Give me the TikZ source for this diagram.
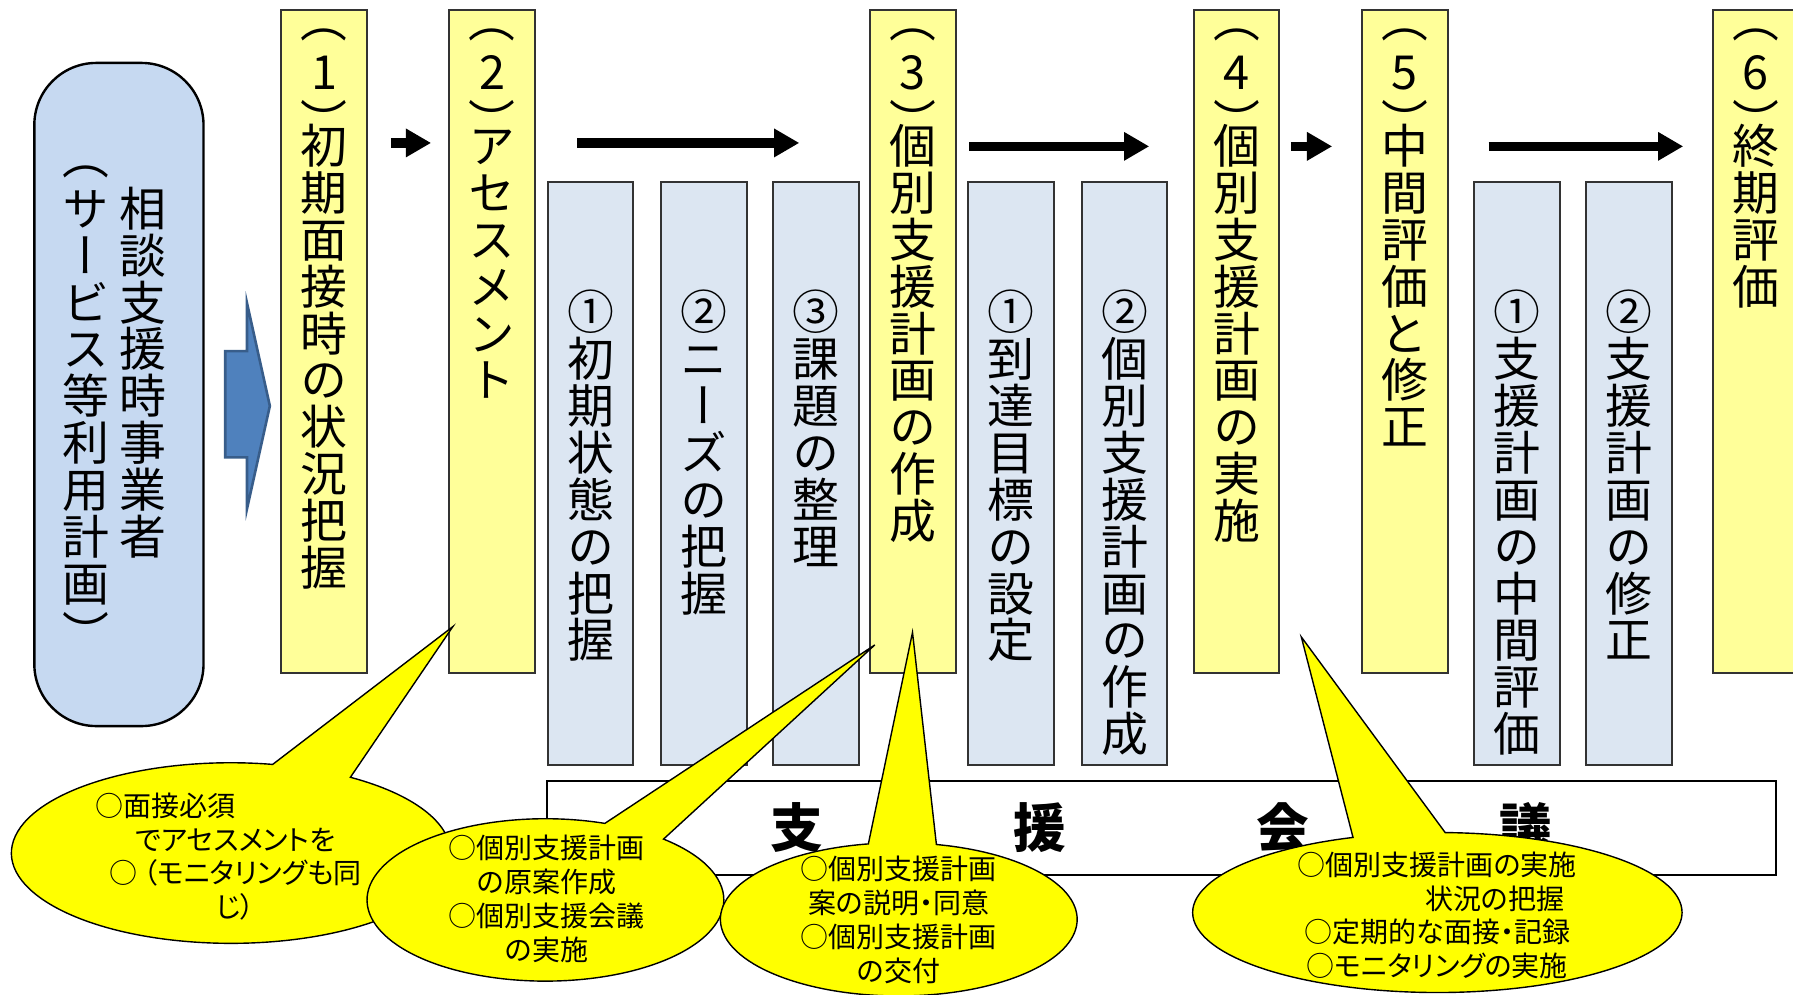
\documentclass[tikz,border=0pt]{standalone}
\usepackage{fontspec}
\setmainfont{Noto Sans CJK JP}
\newfontfamily\jp[RawFeature=+palt]{Noto Sans CJK JP}
\newfontfamily\tatefont[RawFeature=+vert]{Noto Sans CJK JP}
\usetikzlibrary{
  arrows.meta,
  shapes.callouts,
  calc,
}

\definecolor{stagefill}{HTML}{FFFF99}
\definecolor{taskfill}{HTML}{DCE6F2}
\definecolor{consfill}{HTML}{C6D9F1}
\definecolor{arrowfill}{HTML}{4F81BD}
\definecolor{arrowline}{HTML}{385D8A}
\definecolor{bubblefill}{HTML}{FFFF00}

% vertical writing, one character per line
\def\tatebox#1{\hbox to 1em{\hss\vrule height .88em depth .12em width 0pt\relax#1\hss}}
\protected\def\kl{\vbox to .6em{\vss\tatebox{︵}\kern.1em}}
\protected\def\kr{\vbox to .58em{\kern.07em\tatebox{︶}\vss}}
\def\tatenext#1{\ifx#1\relax\else\ifcat\noexpand#1\relax#1\else\tatebox{#1}\fi\expandafter\tatenext\fi}
\def\tate#1{\vtop{\offinterlineskip\edef\tatelist{#1}\expandafter\tatenext\tatelist\relax}}

\begin{document}
\begin{tikzpicture}[
  x=0.5718pt, y=-0.5718pt,
  tatetxt/.style={inner sep=0pt, font=\tatefont\fontsize{23.44}{23.44}\selectfont},
  stage/.style={tatetxt, draw=black!80, line width=1pt, fill=stagefill, anchor=north west,
    minimum width=42.9pt, text height=19.06pt, text depth=312.58pt},
  task/.style={tatetxt, draw=black!80, line width=1pt, fill=taskfill, anchor=north west,
    minimum width=42.9pt, text height=74.09pt, text depth=217.53pt},
  cons/.style={draw, line width=1.2pt, fill=consfill, rounded corners=31pt,
    minimum width=84.6pt, minimum height=331.6pt, inner sep=0pt},
  meeting/.style={draw, line width=1pt, fill=white, minimum width=614.7pt,
    minimum height=46.9pt, inner sep=0pt, font=\bfseries\fontsize{26.3}{26.3}\selectfont},
  flow/.style={line width=4.6pt, -{Triangle[length=12.6pt,width=13.5pt]}},
  bigarrow/.style={draw=arrowline, line width=1.3pt, fill=arrowfill},
  bubble/.style={ellipse callout, draw=black, line width=0.7pt, fill=bubblefill,
    inner sep=0pt, callout pointer arc=22},
  note/.style={inner sep=0pt, align=center, font=\jp\fontsize{14}{16.9}\selectfont},
]
\useasboundingbox (0,0) rectangle (1568,870);

\node[cons] (cons) at (104,345) {};
\node[tatetxt, anchor=north] (c1) at (125,161.5) {\tate{相談支援時事業者}};
\node[tatetxt, anchor=north] (c2) at (75,136.9) {\tate{\kl サービス等利用計画\kr}};
\draw[bigarrow] (197,307) -- (216,307) -- (216,265) -- (236,355) -- (216,445) -- (216,400) -- (197,400) -- cycle;

\foreach \x/\n/\t in {245/1/\kl 1\kr 初期面接時の状況把握, 392/2/\kl 2\kr アセスメント,
  760/3/\kl 3\kr 個別支援計画の作成, 1043/4/\kl 4\kr 個別支援計画の実施,
  1190/5/\kl 5\kr 中間評価と修正, 1497/6/\kl 6\kr 終期評価}
  \node[stage] (s\n) at (\x,8) {\tate{\t}};

\foreach \x/\n/\t in {478/a/①初期状態の把握, 577/b/②ニーズの把握, 675/c/③課題の整理,
  846/d/①到達目標の設定, 945/e/②個別支援計画の作成,
  1288/f/①支援計画の中間評価, 1386/g/②支援計画の修正}
  \node[task] (k\n) at (\x,158) {\tate{\t}};

\draw[flow] ($(s1.north east)+(20,117)$) -- ($(s2.north west)+(-15,117)$);
\draw[flow] ($(s2.north east)+(36,117)$) -- ($(s3.north west)+(-61,117)$);
\draw[flow] ($(s3.north east)+(11,120)$) -- ($(s4.north west)+(-38,120)$);
\draw[flow] ($(s4.north east)+(9,120)$) -- ($(s5.north west)+(-25,120)$);
\draw[flow] ($(s5.north east)+(35,120)$) -- ($(s6.north west)+(-25,120)$);

\node[meeting] (mtg) at (1015.5,724) {支\hspace{3.62em}援\hspace{3.62em}会\hspace{3.62em}議};

\node[bubble, minimum width=219.6pt, minimum height=90.3pt,
  callout absolute pointer={(396,548)}] (b1) at (202,746) {};
\node[note] (n1) at (206,749) {○面接必須\hspace{69.8pt}\mbox{}\\でアセスメントを\\○ （モニタリングも同\\じ）};
\node[bubble, minimum width=178.4pt, minimum height=81.2pt,
  callout absolute pointer={(765,564)}] (b2) at (477,787) {};
\node[note] (n2) at (478,786) {○個別支援計画\\の原案作成\\○個別支援会議\\の実施};
\node[bubble, minimum width=178.4pt, minimum height=76.6pt,
  callout absolute pointer={(798,553)}] (b3) at (786,804) {};
\node[note] (n3) at (786,804.5) {○個別支援計画\\案の説明・同意\\○個別支援計画\\の交付};
\node[bubble, minimum width=244.7pt, minimum height=80pt,
  callout absolute pointer={(1138,557)}] (b4) at (1257,798) {};
\node[note] (n4) at (1257,800.5) {○個別支援計画の実施\\\mbox{}\hspace{57.2pt}状況の把握\\○定期的な面接・記録\\○モニタリングの実施};
\end{tikzpicture}
\end{document}
